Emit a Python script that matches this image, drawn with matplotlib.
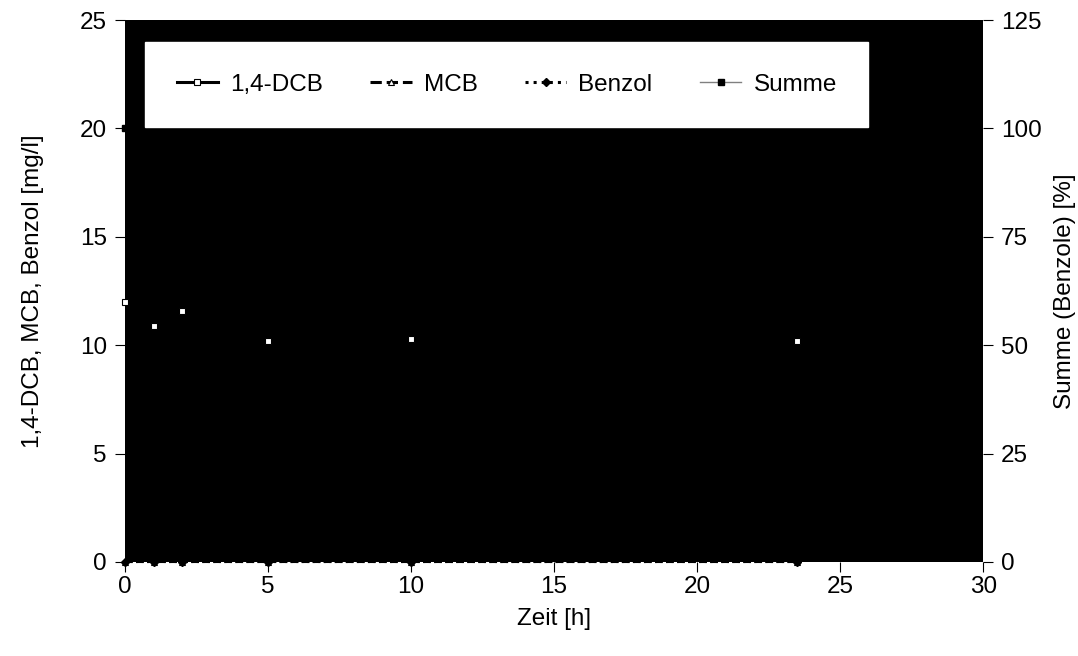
import matplotlib
matplotlib.use("Agg")
import matplotlib.pyplot as plt
from matplotlib.lines import Line2D

plt.rcParams['font.family'] = ['Liberation Sans', 'DejaVu Sans']

zeit = [0, 1, 2, 5, 10, 23.5]
dcb = [12.0, 10.9, 11.6, 10.2, 10.3, 10.2]
mcb = [0, 0, 0, 0, 0, 0]
benzol = [0, 0, 0, 0, 0, 0]
summe = [100, 90.8, 96.7, 85.0, 85.8, 85.0]

FS = 17.5

fig = plt.figure(figsize=(10.78, 6.56), dpi=100)
ax = fig.add_axes([0.116, 0.1433, 0.796, 0.8262])
ax.set_facecolor('black')
ax2 = ax.twinx()

ax.plot(zeit, dcb, '-', color='black', lw=1.5, marker='s', ms=5,
        mfc='white', mec='black', mew=0.8, clip_on=False, zorder=3)
ax.plot(zeit, mcb, '--', color='black', lw=1.5, marker='^', ms=5,
        mfc='white', mec='black', mew=0.8, clip_on=False, zorder=3)
ax.plot(zeit, benzol, ':', color='black', lw=1.5, marker='D', ms=4,
        mfc='black', mec='black', clip_on=False, zorder=3)
ax2.plot(zeit, summe, '-', color='black', lw=1, marker='s', ms=5,
         mfc='black', mec='black', clip_on=False, zorder=3)

ax.set_xlim(0, 30)
ax.set_ylim(0, 25)
ax2.set_ylim(0, 125)
ax.set_xticks(range(0, 31, 5))
ax.set_yticks(range(0, 26, 5))
ax2.set_yticks(range(0, 126, 25))

for a in (ax, ax2):
    a.tick_params(direction='out', length=7, width=0.8, labelsize=FS, colors='black', pad=6)
    for s in a.spines.values():
        s.set_visible(False)
ax.tick_params(axis='x', pad=3)

ax.set_xlabel('Zeit [h]', fontsize=FS, labelpad=7)
ax.set_ylabel('1,4-DCB, MCB, Benzol [mg/l]', fontsize=FS, labelpad=26)
ax2.set_ylabel('Summe (Benzole) [%]', fontsize=FS, labelpad=9)

handles = [
    Line2D([], [], color='black', lw=2.2, ls='-', marker='s', ms=5, mfc='white', mec='black', mew=0.8),
    Line2D([], [], color='black', lw=2.2, ls='--', marker='^', ms=5, mfc='white', mec='black', mew=0.8),
    Line2D([], [], color='black', lw=2.2, ls=':', marker='D', ms=4, mfc='black', mec='black'),
    Line2D([], [], color='gray', lw=1, ls='-', marker='s', ms=5, mfc='black', mec='black'),
]
labels = ['1,4-DCB', 'MCB', 'Benzol', 'Summe']
leg = ax2.legend(handles, labels, loc='upper left', ncol=4, mode='expand',
                 bbox_to_anchor=(0.0233, 0.9594, 0.843, 0.0), borderaxespad=0,
                 frameon=True, fancybox=False, facecolor='white', edgecolor='white',
                 framealpha=1, fontsize=FS, handlelength=1.7, borderpad=1.3,
                 handletextpad=0.5)
leg.set_zorder(10)

fig.savefig('out.png', dpi=100)
